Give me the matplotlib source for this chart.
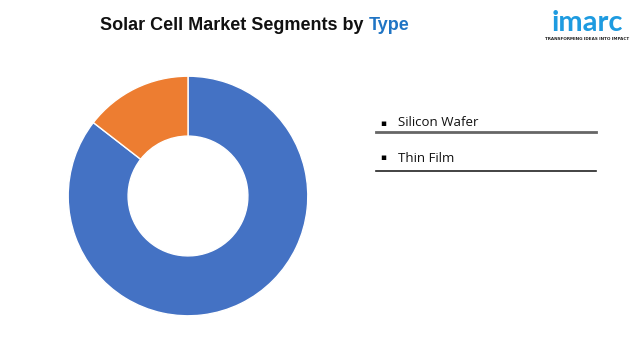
import matplotlib
matplotlib.use("Agg")
import matplotlib.pyplot as plt

categories = ["Silicon Wafer", "Thin Film"]
shares = [85.5, 14.5]
colors = ["#4472C4", "#ED7D31"]

W, H = 640, 360
fig = plt.figure(figsize=(6.4, 3.6), dpi=100)
fig.patch.set_facecolor("white")

# donut
cx, cy, r = 188, 196, 121
ax = fig.add_axes([(cx - r) / W, (H - cy - r) / H, 2 * r / W, 2 * r / H])
ax.pie(shares, colors=colors, startangle=90, counterclock=False,
       radius=1.0, wedgeprops=dict(width=0.5, edgecolor="white", linewidth=1.0))
ax.set_xlim(-1.01, 1.01)
ax.set_ylim(-1.01, 1.01)
ax.set_aspect("equal")
ax.axis("off")

# title
fig.canvas.draw()
r_ = fig.canvas.get_renderer()
t1 = fig.text(100 / W, 1 - 25 / H, "Solar Cell Market Segments by ", fontsize=13,
              fontweight="bold", family="Liberation Sans", color="#111111", va="center", ha="left")
bb = t1.get_window_extent(renderer=r_)
fig.text(bb.x1 / W, 1 - 25 / H, "Type", fontsize=13, fontweight="bold",
         family="Liberation Sans", color="#1F74C4", va="center", ha="left")

# legend
ys = [123, 158]
lines = [(132, "#666666", 2.0), (171, "#222222", 1.2)]
for cat, y, (ly, lc, lw) in zip(categories, ys, lines):
    fig.text(383 / W, 1 - y / H, "\u25aa", fontsize=6.5, color="black", va="center", ha="center",
             family="DejaVu Sans")
    fig.text(398 / W, 1 - y / H, cat, fontsize=9.5, color="#111111", va="center", ha="left",
             family="Open Sans")
    fig.add_artist(plt.Line2D([376 / W, 596 / W], [1 - ly / H, 1 - ly / H], color=lc, lw=lw))

# logo
fig.text(587 / W, 1 - 23 / H, "imarc", fontsize=21, color="#1E9BE0", va="center", ha="center",
         family="Lato", fontweight="bold")
fig.text(587 / W, 1 - 39 / H, "TRANSFORMING IDEAS INTO IMPACT", fontsize=3, color="#222222",
         va="center", ha="center", fontweight="bold", family="DejaVu Sans")

fig.savefig("out.png", dpi=100, facecolor="white")
